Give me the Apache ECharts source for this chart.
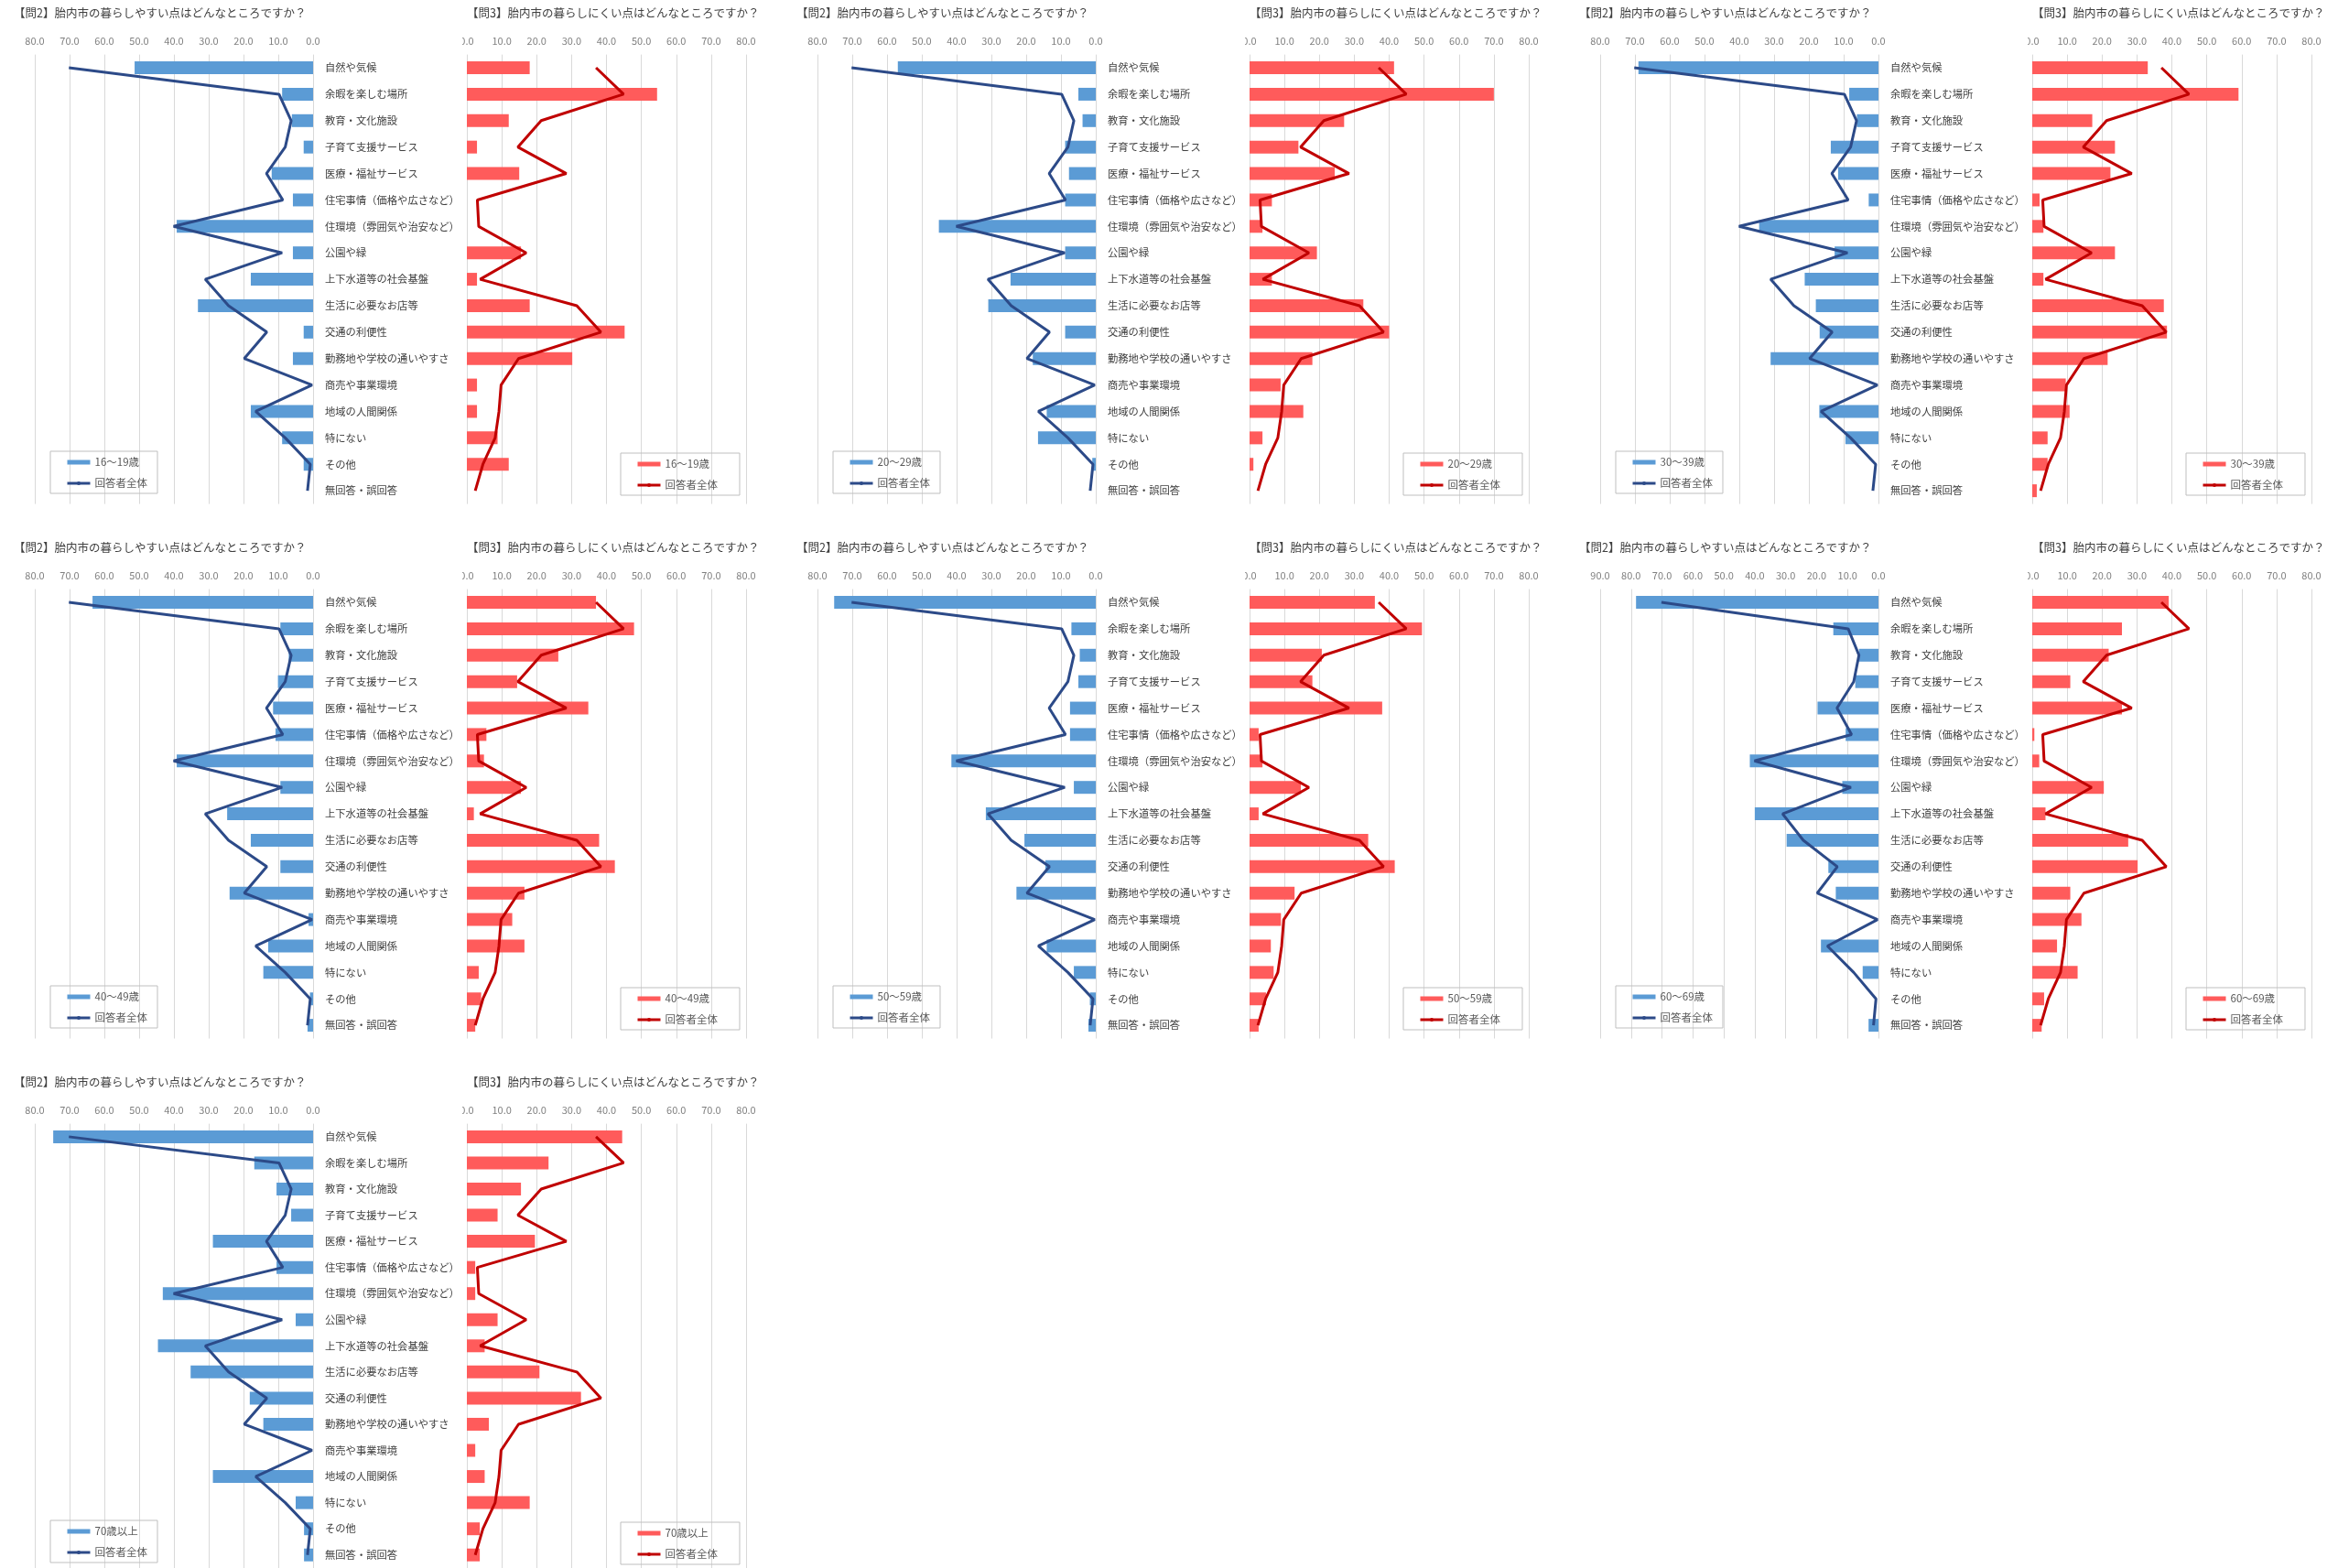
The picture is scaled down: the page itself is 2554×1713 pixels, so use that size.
<!DOCTYPE html>
<html>
<head>
<meta charset="utf-8">
<script src="https://cdn.jsdelivr.net/npm/echarts@6/dist/echarts.min.js"></script>
<style>
  html, body { margin: 0; padding: 0; background: #ffffff; }
  #chart { width: 2554px; height: 1713px; }
</style>
</head>
<body>
<div id="chart"></div>
<script>
// 回答項目
const categories = [
  '自然や気候', '余暇を楽しむ場所', '教育・文化施設', '子育て支援サービス',
  '医療・福祉サービス', '住宅事情（価格や広さなど）', '住環境（雰囲気や治安など）',
  '公園や緑', '上下水道等の社会基盤', '生活に必要なお店等', '交通の利便性',
  '勤務地や学校の通いやすさ', '商売や事業環境', '地域の人間関係', '特にない',
  'その他', '無回答・誤回答'
];

const ageGroups = ['16～19歳', '20～29歳', '30～39歳', '40～49歳', '50～59歳', '60～69歳', '70歳以上'];
const overallName = '回答者全体';

const titleEasy = '【問2】胎内市の暮らしやすい点はどんなところですか？';
const titleHard = '【問3】胎内市の暮らしにくい点はどんなところですか？';

// 回答者全体（%）
const overallEasy = [70.2, 9.8, 6.3, 8.0, 13.4, 8.7, 40.1, 8.9, 31.0, 24.3, 13.3, 19.8, 0.3, 16.5, 8.0, 0.8, 1.6];
const overallHard = [37.0, 44.9, 21.3, 14.6, 28.5, 3.0, 3.4, 17.0, 3.8, 31.5, 38.4, 14.8, 9.8, 9.2, 8.1, 4.6, 2.4];

// 問2 暮らしやすい点（年代別, %）
const easy16to19 = [51.3, 8.9, 6.1, 2.7, 11.9, 5.8, 39.2, 5.8, 17.9, 33.1, 2.7, 5.8, 0, 17.9, 8.9, 2.7, 0];
const easy20to29 = [56.9, 5.0, 3.8, 8.8, 7.7, 8.8, 45.1, 8.8, 24.5, 30.9, 8.8, 18.1, 0, 14.1, 16.6, 1.0, 0];
const easy30to39 = [69.0, 8.4, 6.2, 13.7, 11.6, 2.8, 34.3, 12.6, 21.2, 18.0, 16.9, 31.0, 0, 17.0, 9.5, 0, 0];
const easy40to49 = [63.4, 9.4, 7.0, 10.1, 11.5, 10.8, 39.2, 9.4, 24.7, 17.9, 9.4, 24.0, 1.3, 12.9, 14.3, 0.9, 1.6];
const easy50to59 = [75.2, 7.0, 4.6, 5.0, 7.4, 7.4, 41.5, 6.3, 31.6, 20.5, 14.5, 22.8, 0, 14.1, 6.3, 1.7, 2.1];
const easy60to69 = [78.4, 14.6, 6.3, 7.5, 19.7, 10.6, 41.6, 11.7, 40.0, 29.7, 16.2, 13.8, 0, 18.6, 5.1, 0, 3.2];
const easy70plus = [74.7, 16.9, 10.5, 6.3, 28.8, 10.5, 43.2, 5.0, 44.6, 35.2, 18.2, 14.3, 0, 28.8, 5.0, 2.6, 2.6];

// 問3 暮らしにくい点（年代別, %）
const hard16to19 = [18.0, 54.5, 12.0, 2.9, 15.0, 0, 0, 15.5, 2.9, 18.0, 45.2, 30.2, 2.9, 2.9, 8.8, 12.0, 0];
const hard20to29 = [41.4, 70.0, 27.1, 14.0, 24.4, 6.4, 3.7, 19.3, 6.4, 32.6, 40.0, 18.0, 8.9, 15.4, 3.7, 1.1, 0];
const hard30to39 = [33.1, 59.1, 17.2, 23.7, 22.4, 2.1, 3.2, 23.7, 3.2, 37.7, 38.6, 21.6, 9.6, 10.7, 4.4, 4.4, 1.3];
const hard40to49 = [37.0, 47.9, 26.2, 14.4, 34.8, 5.6, 4.9, 15.5, 2.0, 37.9, 42.4, 16.5, 13.0, 16.5, 3.4, 4.1, 2.4];
const hard50to59 = [35.9, 49.4, 20.7, 18.0, 38.0, 2.6, 3.7, 14.7, 2.6, 34.0, 41.6, 12.9, 9.0, 6.1, 6.9, 4.7, 2.6];
const hard60to69 = [39.1, 25.7, 21.9, 10.9, 25.7, 0.6, 2.0, 20.5, 3.8, 27.5, 30.2, 10.9, 14.1, 7.1, 13.0, 3.4, 2.7];
const hard70plus = [44.5, 23.4, 15.5, 8.8, 19.5, 2.4, 2.4, 8.8, 5.1, 20.8, 32.7, 6.3, 2.4, 5.1, 18.0, 3.7, 3.7];

const easyByAge = [easy16to19, easy20to29, easy30to39, easy40to49, easy50to59, easy60to69, easy70plus];
const hardByAge = [hard16to19, hard20to29, hard30to39, hard40to49, hard50to59, hard60to69, hard70plus];

// 軸の最大値（問2は60～69歳のみ90）
const easyAxisMax = [80, 80, 80, 80, 80, 90, 80];
const hardAxisMax = [80, 80, 80, 80, 80, 80, 80];

// 配色
const BLUE_BAR = '#5b9bd5';
const BLUE_LINE = '#2c4a88';
const RED_BAR = '#ff5b5b';
const RED_LINE = '#c00000';
const GRID_LINE = '#d9d9d9';

// パネル配置（各年代の左右ペア）
const colX = [0, 855, 1710];
const rowY = [0, 584, 1168];
const PLOT_TOP = 59.6;
const BAND = 28.88;
const PLOT_H = BAND * categories.length;
const EASY_LEFT = 38, EASY_W = 304;
const HARD_LEFT = 510, HARD_W = 305;

const FONT = "'Noto Sans CJK JP', 'Noto Sans', sans-serif";

const option = {
  animation: false,
  backgroundColor: '#ffffff',
  textStyle: { fontFamily: FONT },
  title: [], grid: [], xAxis: [], yAxis: [], series: [], legend: [], graphic: []
};

function valueAxis(gridIndex, max, inverse) {
  return {
    gridIndex, type: 'value', position: 'top', inverse,
    min: 0, max, interval: 10,
    axisLine: { show: false }, axisTick: { show: false },
    axisLabel: {
      formatter: v => v.toFixed(1), fontSize: 11, color: '#808080', margin: 9
    },
    splitLine: { show: true, lineStyle: { color: GRID_LINE, width: 1 } }
  };
}

function legendBox(x, y, ageName, barColor, lineColor, rightPad) {
  return {
    left: x, top: y, orient: 'vertical', selectedMode: false,
    itemWidth: 25, itemHeight: 5, itemGap: 7,
    padding: [4, rightPad, 3, 17],
    borderColor: '#bfbfbf', borderWidth: 1,
    textStyle: { fontSize: 11.5, color: '#595959', lineHeight: 16, fontFamily: FONT },
    data: [
      { name: ageName, icon: 'rect', itemStyle: { color: barColor } },
      { name: overallName, itemStyle: { color: lineColor }, lineStyle: { color: lineColor, width: 3 } }
    ]
  };
}

ageGroups.forEach((age, i) => {
  const ox = colX[i % 3];
  const oy = rowY[Math.floor(i / 3)];
  const gL = i * 2, gR = i * 2 + 1;

  option.title.push(
    { text: titleEasy, left: ox + 15, top: oy + 8, padding: 0,
      textStyle: { fontSize: 12.5, fontWeight: 'normal', color: '#404040', fontFamily: FONT } },
    { text: titleHard, left: ox + 510, top: oy + 8, padding: 0,
      textStyle: { fontSize: 12.5, fontWeight: 'normal', color: '#404040', fontFamily: FONT } }
  );

  option.grid.push(
    { left: ox + EASY_LEFT, top: oy + PLOT_TOP, width: EASY_W, height: PLOT_H },
    { left: ox + HARD_LEFT, top: oy + PLOT_TOP, width: HARD_W, height: PLOT_H }
  );

  option.xAxis.push(valueAxis(gL, easyAxisMax[i], true), valueAxis(gR, hardAxisMax[i], false));

  option.yAxis.push(
    { gridIndex: gL, type: 'category', data: categories, inverse: true, position: 'right',
      axisLine: { show: false }, axisTick: { show: false }, splitLine: { show: false },
      axisLabel: { interval: 0, align: 'left', margin: 13, fontSize: 11.3, color: '#404040' } },
    { gridIndex: gR, type: 'category', data: categories, inverse: true,
      axisLine: { show: false }, axisTick: { show: false }, splitLine: { show: false },
      axisLabel: { show: false } }
  );

  option.series.push(
    { type: 'bar', name: age, xAxisIndex: gL, yAxisIndex: gL, data: easyByAge[i],
      barWidth: 14, itemStyle: { color: BLUE_BAR }, z: 2 },
    { type: 'line', name: overallName, xAxisIndex: gL, yAxisIndex: gL,
      data: overallEasy.map((v, k) => [v, categories[k]]),
      symbol: 'none', lineStyle: { color: BLUE_LINE, width: 3 }, itemStyle: { color: BLUE_LINE }, z: 3 },
    { type: 'bar', name: age, xAxisIndex: gR, yAxisIndex: gR, data: hardByAge[i],
      barWidth: 14, itemStyle: { color: RED_BAR }, z: 2 },
    { type: 'line', name: overallName, xAxisIndex: gR, yAxisIndex: gR,
      data: overallHard.map((v, k) => [v, categories[k]]),
      symbol: 'none', lineStyle: { color: RED_LINE, width: 3 }, itemStyle: { color: RED_LINE }, z: 3 }
  );

  option.legend.push(
    legendBox(ox + 55, oy + 493, age, BLUE_BAR, BLUE_LINE, 11),
    legendBox(ox + 678, oy + 495, age, RED_BAR, RED_LINE, 24)
  );

  // 右パネルの左端で切れる目盛ラベル
  option.graphic.push({
    type: 'rect', z: 100, silent: true,
    shape: { x: ox + 488, y: oy + 33, width: 17, height: 20 },
    style: { fill: '#ffffff' }
  });
});

const chart = echarts.init(document.getElementById('chart'), null, { renderer: 'canvas' });
chart.setOption(option);
</script>
</body>
</html>
